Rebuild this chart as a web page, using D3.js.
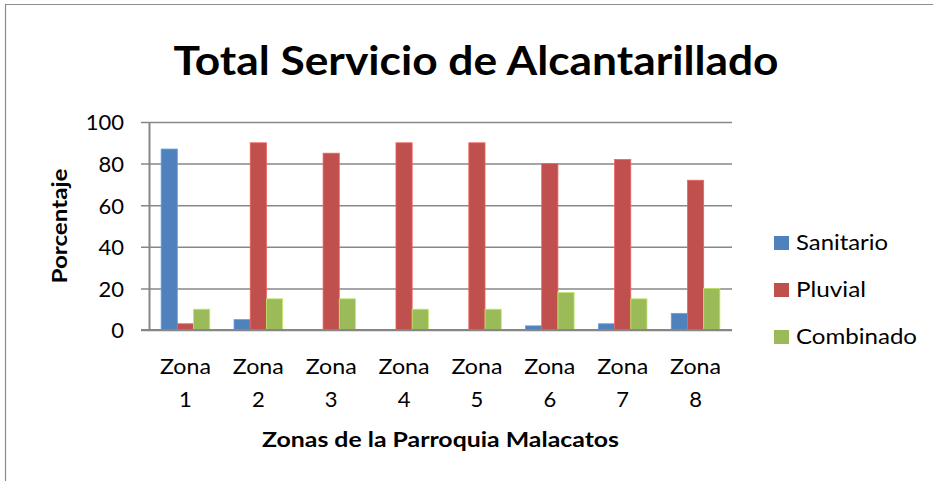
<!DOCTYPE html>
<html>
<head>
<meta charset="utf-8">
<script src="https://cdn.jsdelivr.net/npm/d3@7"></script>
<style>
  html, body { margin: 0; padding: 0; background: #fff; }
  svg { display: block; }
  text { font-family: Lato, "Open Sans", sans-serif; fill: #000; }
</style>
</head>
<body>
<svg id="chart" width="933" height="481"></svg>
<script>
// Zones of the parish and the share (%) of each sewerage type
const zones = ["Zona 1", "Zona 2", "Zona 3", "Zona 4", "Zona 5", "Zona 6", "Zona 7", "Zona 8"];
const seriesNames = ["Sanitario", "Pluvial", "Combinado"];
const sanitario = [87, 5, 0, 0, 0, 2, 3, 8];
const pluvial = [3, 90, 85, 90, 90, 80, 82, 72];
const combinado = [10, 15, 15, 10, 10, 18, 15, 20];
const seriesColors = ["#4F81BD", "#C0504D", "#9BBB59"];
const yTicks = [0, 20, 40, 60, 80, 100];

const seriesValues = [sanitario, pluvial, combinado];
const data = zones.map((z, i) => ({
  zone: z,
  values: seriesNames.map((s, j) => ({ key: s, value: seriesValues[j][i], color: seriesColors[j] }))
}));

const svg = d3.select("#chart");
const plot = { left: 149, right: 732, top: 122, bottom: 330 };

// stretch a text element to a given advance width
function fit(sel, w) {
  sel.attr("textLength", w).attr("lengthAdjust", "spacingAndGlyphs");
}

// outer frame (top and left edges visible)
svg.append("path")
  .attr("d", "M5.5,481 L5.5,4.5 L933,4.5")
  .attr("fill", "none")
  .attr("stroke", "#8c8c8c")
  .attr("stroke-width", 1.2);

// one band per zone; bars fill 3 of 4.5 bar-widths (150% gap)
const x0 = d3.scaleBand().domain(zones).range([plot.left, plot.right]);
const band = x0.step();
const barW = band / (3 + 1.5);
const x1 = d3.scaleBand().domain(seriesNames).range([0, barW * 3]);
const y = d3.scaleLinear().domain([0, 100]).range([plot.bottom, plot.top]);

// gridlines with outside tick marks
const gg = svg.append("g").attr("transform", `translate(${plot.right},0)`)
  .call(d3.axisLeft(y).tickValues(yTicks).tickSize(plot.right - plot.left + 8).tickFormat(""));
gg.select(".domain").remove();
gg.selectAll(".tick line").attr("stroke", "#878787").attr("stroke-width", 1.5);

// bars
const groups = svg.append("g").selectAll("g").data(data).join("g")
  .attr("transform", d => `translate(${x0(d.zone) + (band - barW * 3) / 2},0)`);
groups.selectAll("rect").data(d => d.values).join("rect")
  .attr("x", d => x1(d.key))
  .attr("width", x1.bandwidth())
  .attr("y", d => y(d.value))
  .attr("height", d => y(0) - y(d.value))
  .attr("fill", d => d.color)
  .attr("stroke", d => d3.color(d.color).brighter(0.6))
  .attr("stroke-width", 0.8);

// y axis line and labels
const ya = svg.append("g").attr("transform", `translate(${plot.left},0)`)
  .call(d3.axisLeft(y).tickValues(yTicks).tickSize(0).tickPadding(25));
ya.select(".domain").attr("stroke", "#868686").attr("stroke-width", 2);
ya.selectAll(".tick text").attr("font-size", 22).attr("font-family", "Lato").attr("fill", "#000")
  .attr("dy", "0.36em");

// x axis base line
svg.append("line")
  .attr("x1", plot.left - 8).attr("x2", plot.right)
  .attr("y1", y(0)).attr("y2", y(0))
  .attr("stroke", "#868686").attr("stroke-width", 2);

// category labels on two lines
const xl = svg.append("g").selectAll("g").data(zones).join("g");
xl.append("text")
  .attr("text-anchor", "middle").attr("font-size", 22)
  .attr("x", d => x0(d) + band / 2).attr("y", 373.5)
  .text(d => d.split(" ")[0])
  .call(fit, 51);
xl.append("text")
  .attr("text-anchor", "middle").attr("font-size", 22)
  .attr("x", d => x0(d) + band / 2).attr("y", 406.5)
  .text(d => d.split(" ")[1]);

// title
svg.append("text")
  .attr("x", 476).attr("y", 75)
  .attr("text-anchor", "middle")
  .attr("font-size", 40).attr("font-weight", "bold")
  .text("Total Servicio de Alcantarillado")
  .call(fit, 605);

// axis titles
svg.append("text")
  .attr("x", (plot.left + plot.right) / 2).attr("y", 446.5)
  .attr("text-anchor", "middle")
  .attr("font-size", 21).attr("font-weight", "bold")
  .text("Zonas de la Parroquia Malacatos")
  .call(fit, 357);

svg.append("text")
  .attr("transform", `translate(67,${(plot.top + plot.bottom) / 2}) rotate(-90)`)
  .attr("text-anchor", "middle")
  .attr("font-size", 21).attr("font-weight", "bold")
  .text("Porcentaje")
  .call(fit, 115);

// legend
const legendWidths = [92, 70, 121];
const lg = svg.append("g").selectAll("g").data(seriesNames).join("g")
  .attr("transform", (d, i) => `translate(774,${249.5 + i * 47})`);
lg.append("rect").attr("x", 0).attr("y", -13.5).attr("width", 15).attr("height", 14)
  .attr("fill", (d, i) => seriesColors[i]);
lg.append("text").attr("x", 22).attr("y", 0).attr("font-size", 22)
  .text(d => d)
  .each(function (d, i) { d3.select(this).call(fit, legendWidths[i]); });
</script>
</body>
</html>
